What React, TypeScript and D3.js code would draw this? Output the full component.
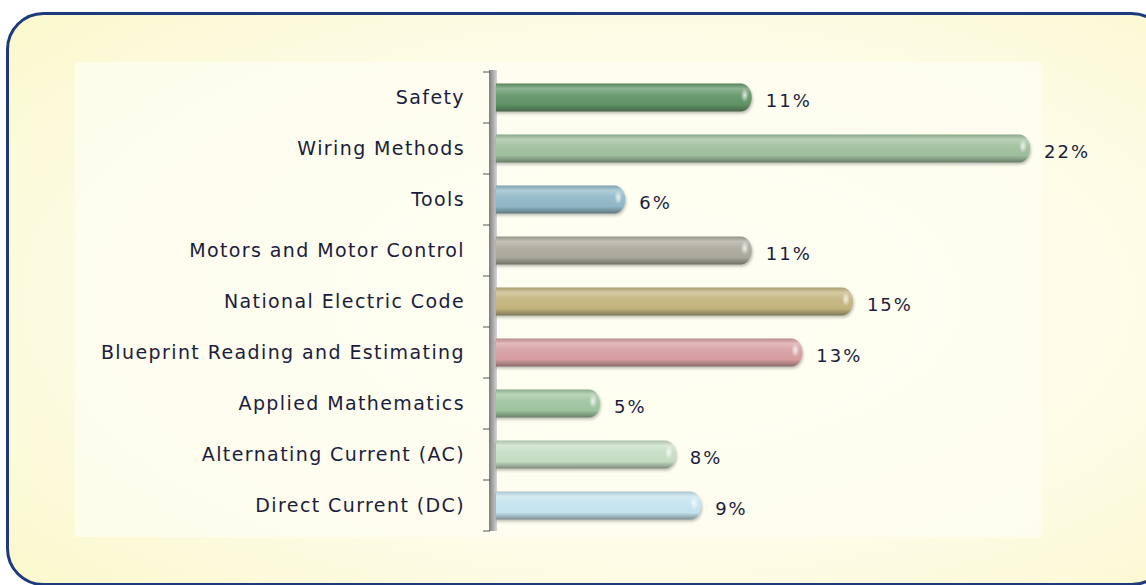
import React from "react";
import * as d3 from "d3";

const categories = [
  "Safety",
  "Wiring Methods",
  "Tools",
  "Motors and Motor Control",
  "National Electric Code",
  "Blueprint Reading and Estimating",
  "Applied Mathematics",
  "Alternating Current (AC)",
  "Direct Current (DC)",
];
const values = [11, 22, 6, 11, 15, 13, 5, 8, 9];
const valueLabels = ["11%", "22%", "6%", "11%", "15%", "13%", "5%", "8%", "9%"];
const barColors = [
  "#5e9364",
  "#9dbd9b",
  "#8eb6c6",
  "#a9a799",
  "#c2b27c",
  "#d69ca0",
  "#9cc39d",
  "#c4dcc2",
  "#c3e2ee",
];

const W = 1146;
const H = 585;
const FONT = "'Comic Sans MS', 'DejaVu Sans', sans-serif";

export default function App() {
  const axisX = 496;
  const y = d3
    .scaleBand<string>()
    .domain(categories)
    .range([72, 531])
    .paddingInner(0.45)
    .paddingOuter(0.225);
  const x = d3.scaleLinear().domain([0, 22]).range([473.5, 1030]);
  const step = y.step();
  const bw = y.bandwidth();
  const boundaries = d3.range(categories.length + 1).map((i) => 72 + i * step);

  const barPath = (x0: number, x1: number, y0: number, h: number) => {
    const r = Math.min(11, (x1 - x0) / 2);
    return `M${x0},${y0} H${x1 - r} A${r},${h / 2} 0 0 1 ${x1 - r},${y0 + h} H${x0} Z`;
  };
  const light = (c: string, t: number) => d3.interpolateRgb(c, "#ffffff")(t);
  const dark = (c: string, t: number) => d3.interpolateRgb(c, "#2a2f2a")(t);

  return (
    <svg width={W} height={H} style={{ display: "block", position: "absolute", left: 0, top: 0 }}>
      <defs>
        <radialGradient id="bg" cx="0.55" cy="0.5" r="0.75">
          <stop offset="0" stopColor="#fefef6" />
          <stop offset="0.6" stopColor="#fdfce6" />
          <stop offset="1" stopColor="#fbf8cc" />
        </radialGradient>
        <linearGradient id="axisG" x1="0" x2="1" y1="0" y2="0">
          <stop offset="0" stopColor="#7d7d7d" />
          <stop offset="0.5" stopColor="#a9a9a9" />
          <stop offset="1" stopColor="#d6d6d6" />
        </linearGradient>
        <filter id="shadow" x="-5%" y="-50%" width="110%" height="200%">
          <feGaussianBlur stdDeviation="1.5" />
        </filter>
        {barColors.map((c, i) => (
          <linearGradient key={i} id={`bar${i}`} x1="0" x2="0" y1="0" y2="1">
            <stop offset="0" stopColor={dark(c, 0.15)} />
            <stop offset="0.18" stopColor={light(c, 0.3)} />
            <stop offset="0.4" stopColor={light(c, 0.1)} />
            <stop offset="0.75" stopColor={c} />
            <stop offset="1" stopColor={dark(c, 0.45)} />
          </linearGradient>
        ))}
        <radialGradient id="cap" cx="0.5" cy="0.5" r="0.5">
          <stop offset="0" stopColor="#ffffff" stopOpacity="0.8" />
          <stop offset="1" stopColor="#ffffff" stopOpacity="0" />
        </radialGradient>
      </defs>

      <rect x={7.5} y={13.5} width={1160} height={571} rx={36} ry={36} fill="url(#bg)" stroke="#1d3b7c" strokeWidth={3} />
      <rect x={75} y={62} width={967} height={475} fill="#fdfdf1" opacity={0.75} />

      {/* axis */}
      <rect x={489} y={70} width={8} height={461} fill="url(#axisG)" />
      {boundaries.map((b, i) => (
        <line key={i} x1={483} x2={490} y1={b} y2={b} stroke="#555" strokeWidth={1} />
      ))}

      {/* bars */}
      {categories.map((c, i) => {
        const y0 = y(c)!;
        const x1 = x(values[i]);
        return (
          <g key={c}>
            <path d={barPath(axisX, x1 + 1, y0 + 2, bw)} fill="#000" opacity={0.25} filter="url(#shadow)" />
            <path d={barPath(axisX, x1, y0, bw)} fill={`url(#bar${i})`} />
            <ellipse cx={x1 - 7} cy={y0 + bw * 0.42} rx={4} ry={7} fill="url(#cap)" />
          </g>
        );
      })}

      {/* category labels */}
      {categories.map((c) => (
        <text
          key={c}
          x={465}
          y={y(c)! + bw / 2}
          dy="0.35em"
          textAnchor="end"
          fontFamily={FONT}
          fontSize={19}
          letterSpacing={1.4}
          fill="#1c1c3c"
        >
          {c}
        </text>
      ))}

      {/* value labels */}
      {categories.map((c, i) => (
        <text
          key={c}
          x={x(values[i]) + 14}
          y={y(c)! + bw / 2 + 3}
          dy="0.35em"
          fontFamily={FONT}
          fontSize={18}
          letterSpacing={2}
          fill="#1c1c3c"
        >
          {valueLabels[i]}
        </text>
      ))}
    </svg>
  );
}
